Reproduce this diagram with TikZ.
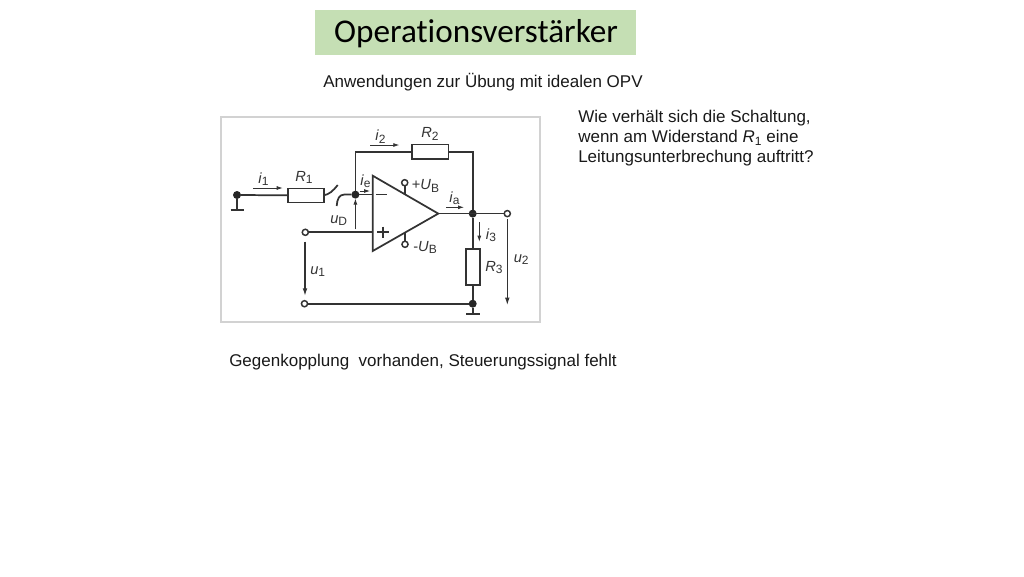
\documentclass[tikz,border=0pt]{standalone}
\usepackage{fontspec}
\setmainfont{Liberation Sans}
\newfontfamily\titlefont[Ligatures=NoCommon]{Carlito}
\usetikzlibrary{arrows.meta}
\definecolor{wire}{HTML}{333333}
\definecolor{framegray}{HTML}{D2D2D2}
\definecolor{titlegreen}{HTML}{C5DFB4}
\newcommand{\lbl}[2]{\textit{#1}\raisebox{-2pt}{\fontsize{9}{10}\selectfont #2}}
\tikzset{
  wireline/.style={draw=wire,line width=1.3pt},
  res/.style={draw=wire,line width=1.2pt,fill=white,minimum width=#1,inner sep=0pt,outer sep=0pt},
  fdot/.style={circle,fill=black!85,draw=none,minimum size=6pt,inner sep=0pt,outer sep=0pt},
  term/.style={circle,draw=wire,fill=white,line width=1.1pt,minimum size=4.6pt,inner sep=0pt,outer sep=0pt},
  curr/.style={draw=wire,line width=0.6pt,-{Latex[length=4.5pt,width=3pt]}},
  volt/.style={draw=wire,line width=0.8pt,-{Latex[length=5.5pt,width=3.5pt]}},
  cl/.style={font=\fontsize{11}{13}\selectfont,text=black!80,inner sep=0pt,anchor=base west},
  body/.style={font=\fontsize{12.75}{15}\selectfont,text=black!90,inner sep=0pt,anchor=base west},
}
\begin{document}
\begin{tikzpicture}[x=0.75pt,y=-0.75pt]
\useasboundingbox (0,0) rectangle (1024,576);
% title
\node[fill=titlegreen,minimum width=240.75pt,minimum height=33.75pt,inner sep=0pt] (titlebox) at (475.5,32) {};
\node[anchor=base,inner sep=0pt,font=\titlefont\fontsize{24.9}{30}\selectfont,text=black] (title) at (476,42.5) {Operationsverstärker};
\node[body] (sub) at (323,87) {Anwendungen zur Übung mit idealen OPV};
\node[body] (q1) at (578,122.7) {Wie verhält sich die Schaltung,};
\node[body] (q2) at (578,142.7) {wenn am Widerstand \textit{R}\raisebox{-2pt}{\fontsize{9}{10}\selectfont 1} eine};
\node[body] (q3) at (578,162.7) {Leitungsunterbrechung auftritt?};
\node[body] (ans) at (229,366) {Gegenkopplung\ \ vorhanden, Steuerungssignal fehlt};
% frame
\node[draw=framegray,line width=1.5pt,minimum width=239.25pt,minimum height=153.75pt,inner sep=0pt] (frame) at (380.5,219.5) {};
% key points
\node[fdot] (a) at (237,195) {};
\node[res=27pt,minimum height=10.5pt] (R1) at (305.7,195.3) {};
\node[res=27.5pt,minimum height=11pt] (R2) at (430.3,151.7) {};
\node[res=10.5pt,minimum height=27pt] (R3) at (472.7,266.7) {};
\node[fdot] (n) at (355.4,194.6) {};
\node[fdot] (o) at (472.7,213.6) {};
\node[fdot] (g) at (472.7,303.7) {};
\node[term] (t2) at (507.3,213.6) {};
\node[term] (t1a) at (305.3,232.3) {};
\node[term] (t1b) at (304.5,303.7) {};
\node[term] (vp) at (404.7,182.7) {};
\node[term] (vm) at (405,244.3) {};
\coordinate (tl) at (372.7,175.7);
\coordinate (bl) at (372.7,251);
\coordinate (ap) at (438.3,213.6);
\coordinate (invin) at (372.7,194.6);
\coordinate (nonin) at (372.7,232.3);
\coordinate (nup) at (355.4,151.7);
\coordinate (oup) at (472.7,151.7);
\coordinate (vpe) at (404.7,194);
\coordinate (vme) at (405,233);
\coordinate (ag) at (237,209.7);
\coordinate (agl) at (230.7,209.7);
\coordinate (agr) at (243.7,209.7);
\coordinate (gg) at (472.7,313.7);
\coordinate (ggl) at (466,313.7);
\coordinate (ggr) at (480,313.7);
% wires
\draw[wireline] (a) -- (R1.west);
\draw[wireline] (a) -- (ag) (agl) -- (agr);
\draw[wireline] (R1.east) .. controls (329,194.5) and (333,191) .. (337.7,185);
\draw[wireline] (n) -- (344,194.6) .. controls (339.5,194.6) and (337,199) .. (336.7,206);
\draw[wireline] (n) -- (invin);
\draw[wireline] (n) -- (nup) -- (R2.west);
\draw[wireline] (R2.east) -- (oup) -- (o);
\draw[wireline] (ap) -- (t2);
\draw[wireline] (o) -- (R3.north);
\draw[wireline] (R3.south) -- (g);
\draw[wireline] (g) -- (gg) (ggl) -- (ggr);
\draw[wireline] (t1a) -- (nonin);
\draw[wireline] (t1b) -- (g);
\draw[wireline,line join=miter] (tl) -- (ap) -- (bl) -- cycle;
\draw[wireline] (vp) -- (vpe);
\draw[wireline] (vm) -- (vme);
\draw[wireline] (376,194.6) -- (387,194.6);
\draw[wireline] (377,232.3) -- (388.5,232.3) (382.7,226.5) -- (382.7,238);
% arrows
\draw[curr] (253.3,188) -- (282.7,188);
\draw[curr] (359.7,191) -- (370,191);
\draw[curr] (370,145) -- (399.3,145);
\draw[curr] (446,207.3) -- (464,207.3);
\draw[curr] (479.3,222.3) -- (479.3,241.7);
\draw[curr] (355.4,229.3) -- (n);
\draw[volt] (305,241.7) -- (305,295.7);
\draw[volt] (507.3,219) -- (507.3,305);
% labels
\node[cl] (li1) at (258,183) {\lbl{i}{1}};
\node[cl] (lR1) at (295,181) {\lbl{R}{1}};
\node[cl] (li2) at (375,140.5) {\lbl{i}{2}};
\node[cl] (lR2) at (421,137.5) {\lbl{R}{2}};
\node[cl] (lie) at (360,185) {\lbl{i}{e}};
\node[cl] (luD) at (330,223) {\lbl{u}{D}};
\node[cl] (lia) at (449,202) {\lbl{i}{a}};
\node[cl] (lub) at (411.5,189.5) {+\lbl{U}{B}};
\node[cl] (lumb) at (413,251) {-\lbl{U}{B}};
\node[cl] (li3) at (485.5,239) {\lbl{i}{3}};
\node[cl] (lR3) at (485,271) {\lbl{R}{3}};
\node[cl] (lu2) at (513.5,262) {\lbl{u}{2}};
\node[cl] (lu1) at (310,274) {\lbl{u}{1}};
\end{tikzpicture}
\end{document}
